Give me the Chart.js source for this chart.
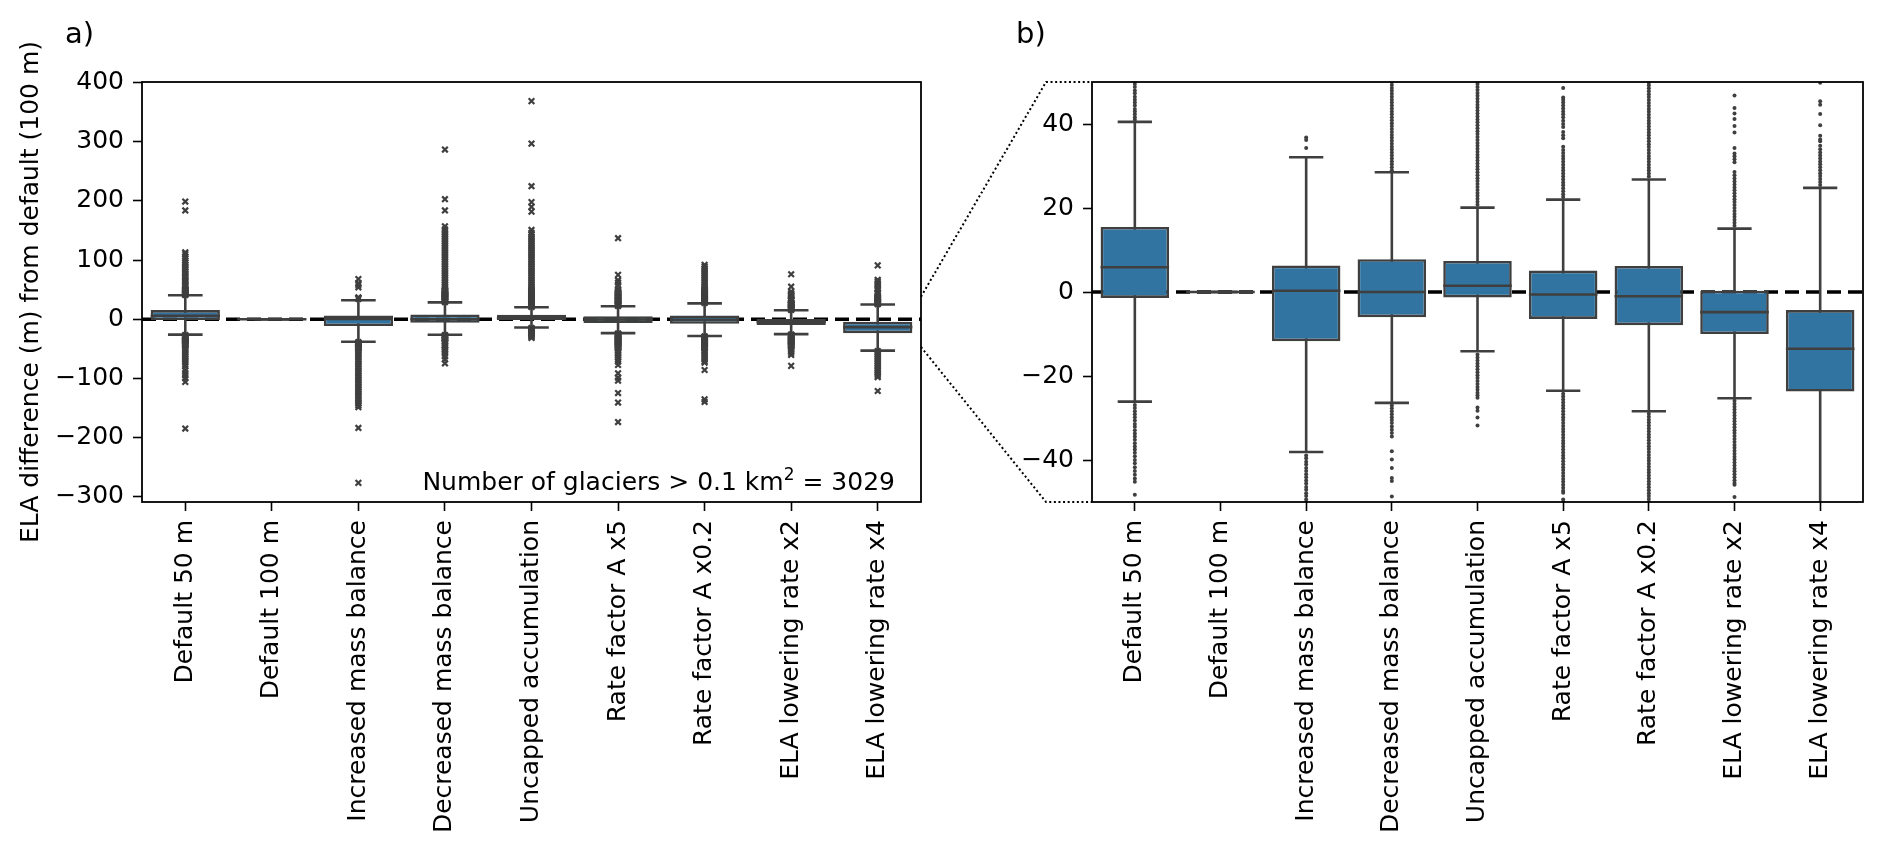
<!DOCTYPE html>
<html>
<head>
<meta charset="utf-8">
<script src="https://cdn.jsdelivr.net/npm/chart.js@4.4.1/dist/chart.umd.min.js"></script>
<style>
  html, body { margin: 0; padding: 0; background: #fff; }
  #wrap { position: relative; width: 1892px; height: 857px; overflow: hidden; }
  canvas { position: absolute; top: 0; }
  #panelA { left: 0; }
  #panelB { left: 950px; }
  #overlay { position: absolute; left: 0; top: 0; pointer-events: none; }
</style>
</head>
<body>
<div id="wrap">
  <canvas id="panelA" width="950" height="857"></canvas>
  <canvas id="panelB" width="942" height="857"></canvas>
  <svg id="overlay" width="1892" height="857" font-family="DejaVu Sans"></svg>
</div>
<script>
const categories = ['Default 50 m', 'Default 100 m', 'Increased mass balance', 'Decreased mass balance',
    'Uncapped accumulation', 'Rate factor A x5', 'Rate factor A x0.2', 'ELA lowering rate x2', 'ELA lowering rate x4'];

// box statistics (m)
const q1 = [-1.4, 0, -11.7, -6.0, -1.3, -6.4, -7.9, -10.0, -23.7];
const medians = [5.9, 0, 0.3, 0.0, 1.5, -0.6, -1.0, -4.8, -13.5];
const q3 = [15.5, 0, 6.3, 7.8, 7.4, 5.1, 6.2, 0.3, -4.3];
const whiskerLow = [-26.1, 0, -38.1, -26.4, -14.1, -23.5, -28.4, -25.3, -53.2];
const whiskerHigh = [40.5, 0, 32.1, 28.5, 20.1, 22.0, 26.8, 15.1, 24.8];

// outliers per scenario
const outDefault50 = [41.0, 41.6, 42.3, 43.0, 43.6, 44.4, 45.1, 45.8, 46.5, 47.3, 48.0, 48.8, 49.5, 50.3,
    52, 54.5, 57, 59, 62, 64.5, 67, 70, 72.5, 75, 78, 81, 84, 87, 90, 93, 96, 99, 103, 106, 110, 113, 184, 199,
    -26.9, -27.6, -28.4, -29.1, -29.8, -30.6, -31.4, -32.1, -32.9, -33.7, -34.4, -35.2, -36.0, -36.8, -37.5,
    -38.3, -39.1, -40.0, -40.8, -41.7, -42.6, -43.5, -44.4, -45.2, -48.3, -51, -54, -57, -60, -63, -66, -69,
    -72, -76, -80, -86, -91, -95, -100, -106, -185];
const outDefault100 = [];
const outIncreased = [34.3, 36.2, 36.8, 54, 58, 61, 68,
    -38.9, -39.6, -40.4, -41.1, -41.9, -42.6, -43.4, -44.1, -44.9, -45.6, -46.4, -47.1, -47.9, -48.6, -49.4,
    -50.2, -53, -56, -59, -62, -65, -68, -71, -74, -77, -80, -83, -86, -89, -92, -95, -98, -101, -104, -107,
    -110, -113, -116, -119, -122, -125, -128, -131, -134, -137, -140, -143, -146, -149, -184, -277];
const outDecreased = [29.0, 29.7, 30.4, 31.1, 31.8, 32.5, 33.2, 33.9, 34.6, 35.3, 36.0, 36.7, 37.4, 38.1,
    38.8, 39.5, 40.2, 40.9, 41.6, 42.3, 43.0, 43.7, 44.4, 45.1, 45.8, 46.5, 47.2, 47.9, 48.6, 49.3, 50.0,
    53, 56, 59, 62, 65, 68, 71, 74, 77, 80, 83, 86, 89, 92, 95, 98, 101, 104, 107, 110, 113, 116, 119, 122,
    125, 128, 131, 134, 137, 140, 143, 146, 149, 152, 157, 184, 203, 287,
    -27.0, -27.7, -28.4, -29.1, -29.8, -30.5, -31.2, -32.0, -32.8, -33.6, -34.4, -37.9, -39.9, -41.9, -44.3,
    -45.0, -48.7, -51, -53, -55, -57.6, -63, -68, -74.6];
const outUncapped = [20.8, 21.5, 22.2, 22.9, 23.6, 24.3, 25.0, 25.7, 26.4, 27.1, 27.8, 28.5, 29.2, 29.9,
    30.6, 31.3, 32.0, 32.7, 33.4, 34.1, 34.8, 35.5, 36.2, 36.9, 37.6, 38.3, 39.0, 39.7, 40.4, 41.1, 41.8,
    42.5, 43.2, 43.9, 44.6, 45.3, 46.0, 46.7, 47.4, 48.1, 48.8, 49.5, 50.2, 53, 56, 59, 62, 65, 68, 71, 74,
    77, 80, 83, 86, 89, 92, 95, 98, 101, 104, 107, 110, 113, 116, 119, 122, 125, 128, 131, 134, 137, 140,
    143, 146, 151, 182, 190, 198, 225, 297, 369,
    -14.9, -15.6, -16.3, -17.0, -17.7, -18.4, -19.1, -19.8, -20.5, -21.2, -21.9, -22.6, -23.3, -24.0, -24.6,
    -25.2, -27.5, -28.3, -29.9, -31.8];
const outRateX5 = [22.6, 23.3, 24.0, 24.7, 25.4, 26.1, 26.8, 27.5, 28.2, 28.9, 29.6, 30.3, 31.0, 31.7, 32.4,
    33.1, 33.8, 34.6, 36.6, 37.3, 38.1, 39.3, 40.0, 40.8, 41.6, 42.3, 43.0, 43.7, 44.4, 45.1, 45.8, 46.3,
    48.6, 51, 57, 62, 66, 75, 137,
    -24.2, -24.9, -25.6, -26.3, -27.0, -27.7, -28.4, -29.1, -29.8, -30.5, -31.2, -31.9, -32.6, -33.3, -34.0,
    -34.7, -35.4, -36.1, -36.8, -37.5, -38.2, -38.9, -39.6, -40.3, -41.0, -41.7, -42.4, -43.1, -43.8, -44.5,
    -45.2, -45.9, -46.6, -47.3, -47.8, -49.4, -50.1, -53, -56, -59, -62, -65, -68, -71.8, -77.5, -91.5, -99,
    -104, -125, -141, -174];
const outRateX02 = [27.5, 28.2, 28.9, 29.6, 30.3, 31.0, 31.7, 32.4, 33.1, 33.8, 34.5, 35.2, 35.9, 36.6,
    37.3, 38.0, 38.7, 39.4, 40.1, 40.8, 41.5, 42.2, 42.9, 43.6, 44.3, 45.0, 45.7, 46.4, 47.1, 47.8, 48.5,
    49.2, 49.9, 50.4, 53, 56, 59, 62, 65, 68, 71, 74, 77, 80, 83, 86, 89, 92,
    -29.0, -29.7, -30.4, -31.1, -31.8, -32.5, -33.2, -33.9, -34.6, -35.3, -36.0, -36.7, -37.4, -38.1, -38.8,
    -39.5, -40.2, -40.9, -41.6, -42.3, -43.0, -43.7, -44.4, -45.1, -45.8, -46.5, -47.2, -47.9, -48.6, -49.3,
    -50.0, -53, -56, -59, -62, -65, -68, -71, -73.5, -86, -135.6, -140];
const outElaX2 = [15.8, 16.5, 17.2, 17.9, 18.6, 19.3, 20.0, 20.7, 21.4, 22.1, 22.8, 23.5, 24.2, 24.9, 25.6,
    26.3, 27.0, 27.8, 28.6, 30.9, 31.6, 32.3, 33.0, 34.3, 38.0, 39.5, 41.2, 42.5, 43.8, 46.8, 55, 76,
    -25.9, -26.6, -27.3, -28.0, -28.7, -29.4, -30.1, -30.8, -31.5, -32.2, -32.9, -33.6, -34.3, -35.0, -35.7,
    -36.4, -37.1, -37.8, -38.5, -39.2, -39.9, -40.6, -41.3, -42.0, -42.7, -43.4, -44.1, -44.8, -45.5, -45.9,
    -48.8, -51, -54, -57, -60.5, -79];
const outElaX4 = [25.5, 26.2, 26.9, 27.6, 28.3, 29.0, 29.7, 30.4, 31.1, 31.8, 32.5, 33.2, 34.0, 34.8, 35.9,
    36.3, 37.2, 39.7, 42.4, 44.6, 45.4, 49.8, 52, 55, 58, 61, 64, 66.6, 91,
    -54, -57, -60, -63, -66, -69, -72, -75, -78, -81, -84, -87, -90, -93, -96, -98, -121.5];
const outliers = [outDefault50, outDefault100, outIncreased, outDecreased, outUncapped,
    outRateX5, outRateX02, outElaX2, outElaX4];

const ticksA = [-300, -200, -100, 0, 100, 200, 300, 400];
const ticksB = [-40, -20, 0, 20, 40];
const rangeA = [-309.3, 401.3];
const rangeB = [-50, 50];
const zoomLink = [38, -47];   // where the zoom lines leave panel a

const BOX = '#3274a1';
const LINE = '#3f3f3f';

Chart.defaults.font.family = 'DejaVu Sans';
Chart.defaults.font.size = 25;
Chart.defaults.color = '#000';

const halfWidth = frac => ctx => {
    const x = ctx.chart.scales.x;
    const r = x.getPixelForValue(frac) - x.getPixelForValue(0);
    return isFinite(r) ? r : 0;
};
const minus = v => String(v).replace('-', '\u2212');

const framePlugin = {
    id: 'frame',
    afterDraw(chart) {
        const { ctx, chartArea: a } = chart;
        ctx.save();
        ctx.strokeStyle = '#000';
        ctx.lineWidth = 1.8;
        ctx.strokeRect(a.left, a.top, a.right - a.left, a.bottom - a.top);
        ctx.restore();
    }
};

const tickGrid = { display: true, drawOnChartArea: false, drawTicks: true, tickLength: 9, tickWidth: 1.6, tickColor: '#000', offset: false };

const makePanel = (id, range, yTicks, flier, yTitle) => {
    const idx = categories.map((c, i) => i);
    return new Chart(document.getElementById(id), {
        type: 'bar',
        data: {
            datasets: [
                {
                    type: 'line',
                    data: [{ x: -0.5, y: 0 }, { x: categories.length - 0.5, y: 0 }],
                    borderColor: '#000', borderWidth: 3.5, borderDash: [14, 7],
                    pointRadius: 0, order: 10, clip: 0
                },
                {
                    data: idx.map(i => ({ x: i, y: [whiskerLow[i], whiskerHigh[i]] })),
                    backgroundColor: LINE, borderWidth: 0, barThickness: 2.6,
                    grouped: false, inflateAmount: 0, order: 8, clip: 0
                },
                {
                    data: idx.map(i => ({ x: i, y: [q1[i], q3[i]] })),
                    backgroundColor: BOX, borderColor: LINE, borderWidth: 2.6, borderSkipped: false,
                    barPercentage: 0.8, categoryPercentage: 1, grouped: false, inflateAmount: 0, order: 6, clip: 0
                },
                {
                    type: 'line', showLine: false,
                    data: idx.map(i => ({ x: i, y: medians[i] })),
                    pointStyle: 'line', pointRadius: halfWidth(0.4),
                    pointBorderColor: LINE, pointBorderWidth: 2.6, order: 4, clip: 0
                },
                {
                    type: 'line', showLine: false,
                    data: idx.flatMap(i => [{ x: i, y: whiskerLow[i] }, { x: i, y: whiskerHigh[i] }]),
                    pointStyle: 'line', pointRadius: halfWidth(0.2),
                    pointBorderColor: LINE, pointBorderWidth: 2.6, order: 4, clip: 0
                },
                {
                    type: 'line', showLine: false,
                    data: idx.flatMap(i => outliers[i].map(v => ({ x: i, y: v }))),
                    pointStyle: flier.style, pointRadius: flier.radius, pointBorderWidth: flier.border,
                    pointBackgroundColor: LINE, pointBorderColor: LINE, order: 2, clip: 0
                }
            ]
        },
        options: {
            responsive: false,
            animation: false,
            events: [],
            layout: { padding: { top: 82, right: 29, left: 0, bottom: 0 } },
            plugins: { legend: { display: false }, tooltip: { enabled: false } },
            scales: {
                x: {
                    type: 'linear', min: -0.5, max: categories.length - 0.5, offset: false,
                    grid: tickGrid,
                    border: { display: false },
                    ticks: { autoSkip: false, minRotation: 90, maxRotation: 90, padding: 9, color: '#000',
                        callback: v => categories[v] },
                    afterBuildTicks: axis => { axis.ticks = idx.map(i => ({ value: i })); },
                    afterFit: scale => { scale.height = 355; }
                },
                y: {
                    type: 'linear', min: range[0], max: range[1],
                    grid: tickGrid,
                    border: { display: false },
                    ticks: { padding: 9, color: '#000', callback: v => minus(v) },
                    afterBuildTicks: axis => { axis.ticks = yTicks.map(v => ({ value: v })); },
                    afterFit: scale => { scale.width = 142; },
                    title: yTitle
                        ? { display: true, text: yTitle, color: '#000', padding: { top: 16, bottom: 0 } }
                        : { display: false }
                }
            }
        },
        plugins: [framePlugin]
    });
};

const chartA = makePanel('panelA', rangeA, ticksA, { style: 'crossRot', radius: 4, border: 2.2 },
    'ELA difference (m) from default (100 m)');
const chartB = makePanel('panelB', rangeB, ticksB, { style: 'circle', radius: 2, border: 0 }, null);

// overlay: panel letters, glacier count, zoom connectors
const svg = document.getElementById('overlay');
const NS = 'http://www.w3.org/2000/svg';
const addEl = (parent, tag, attrs, text) => {
    const el = document.createElementNS(NS, tag);
    Object.entries(attrs).forEach(([k, v]) => el.setAttribute(k, v));
    if (text !== undefined) el.textContent = text;
    parent.appendChild(el);
    return el;
};

const offsetB = 950;
const areaA = chartA.chartArea;
const areaB = chartB.chartArea;

addEl(svg, 'text', { x: 65, y: 43, 'font-size': 29, fill: '#000' }, 'a)');
addEl(svg, 'text', { x: offsetB + areaB.left - 76, y: 43, 'font-size': 29, fill: '#000' }, 'b)');

const note = addEl(svg, 'text', { x: areaA.right - 26, y: areaA.bottom - 12, 'font-size': 25, fill: '#000', 'text-anchor': 'end' });
addEl(note, 'tspan', {}, 'Number of glaciers > 0.1 km');
addEl(note, 'tspan', { dy: -10, 'font-size': 17 }, '2');
addEl(note, 'tspan', { dy: 10, 'font-size': 25 }, '\u00a0= 3029');

const kneeX = offsetB + areaB.left - 46;
const linkTop = [[areaA.right, chartA.scales.y.getPixelForValue(zoomLink[0])], [kneeX, areaB.top], [offsetB + areaB.left, areaB.top]];
const linkBottom = [[areaA.right, chartA.scales.y.getPixelForValue(zoomLink[1])], [kneeX, areaB.bottom], [offsetB + areaB.left, areaB.bottom]];
[linkTop, linkBottom].forEach(pts => {
    addEl(svg, 'polyline', {
        points: pts.map(p => p.join(',')).join(' '),
        fill: 'none', stroke: '#000', 'stroke-width': 2, 'stroke-dasharray': '2 2.6'
    });
});
</script>
</body>
</html>
